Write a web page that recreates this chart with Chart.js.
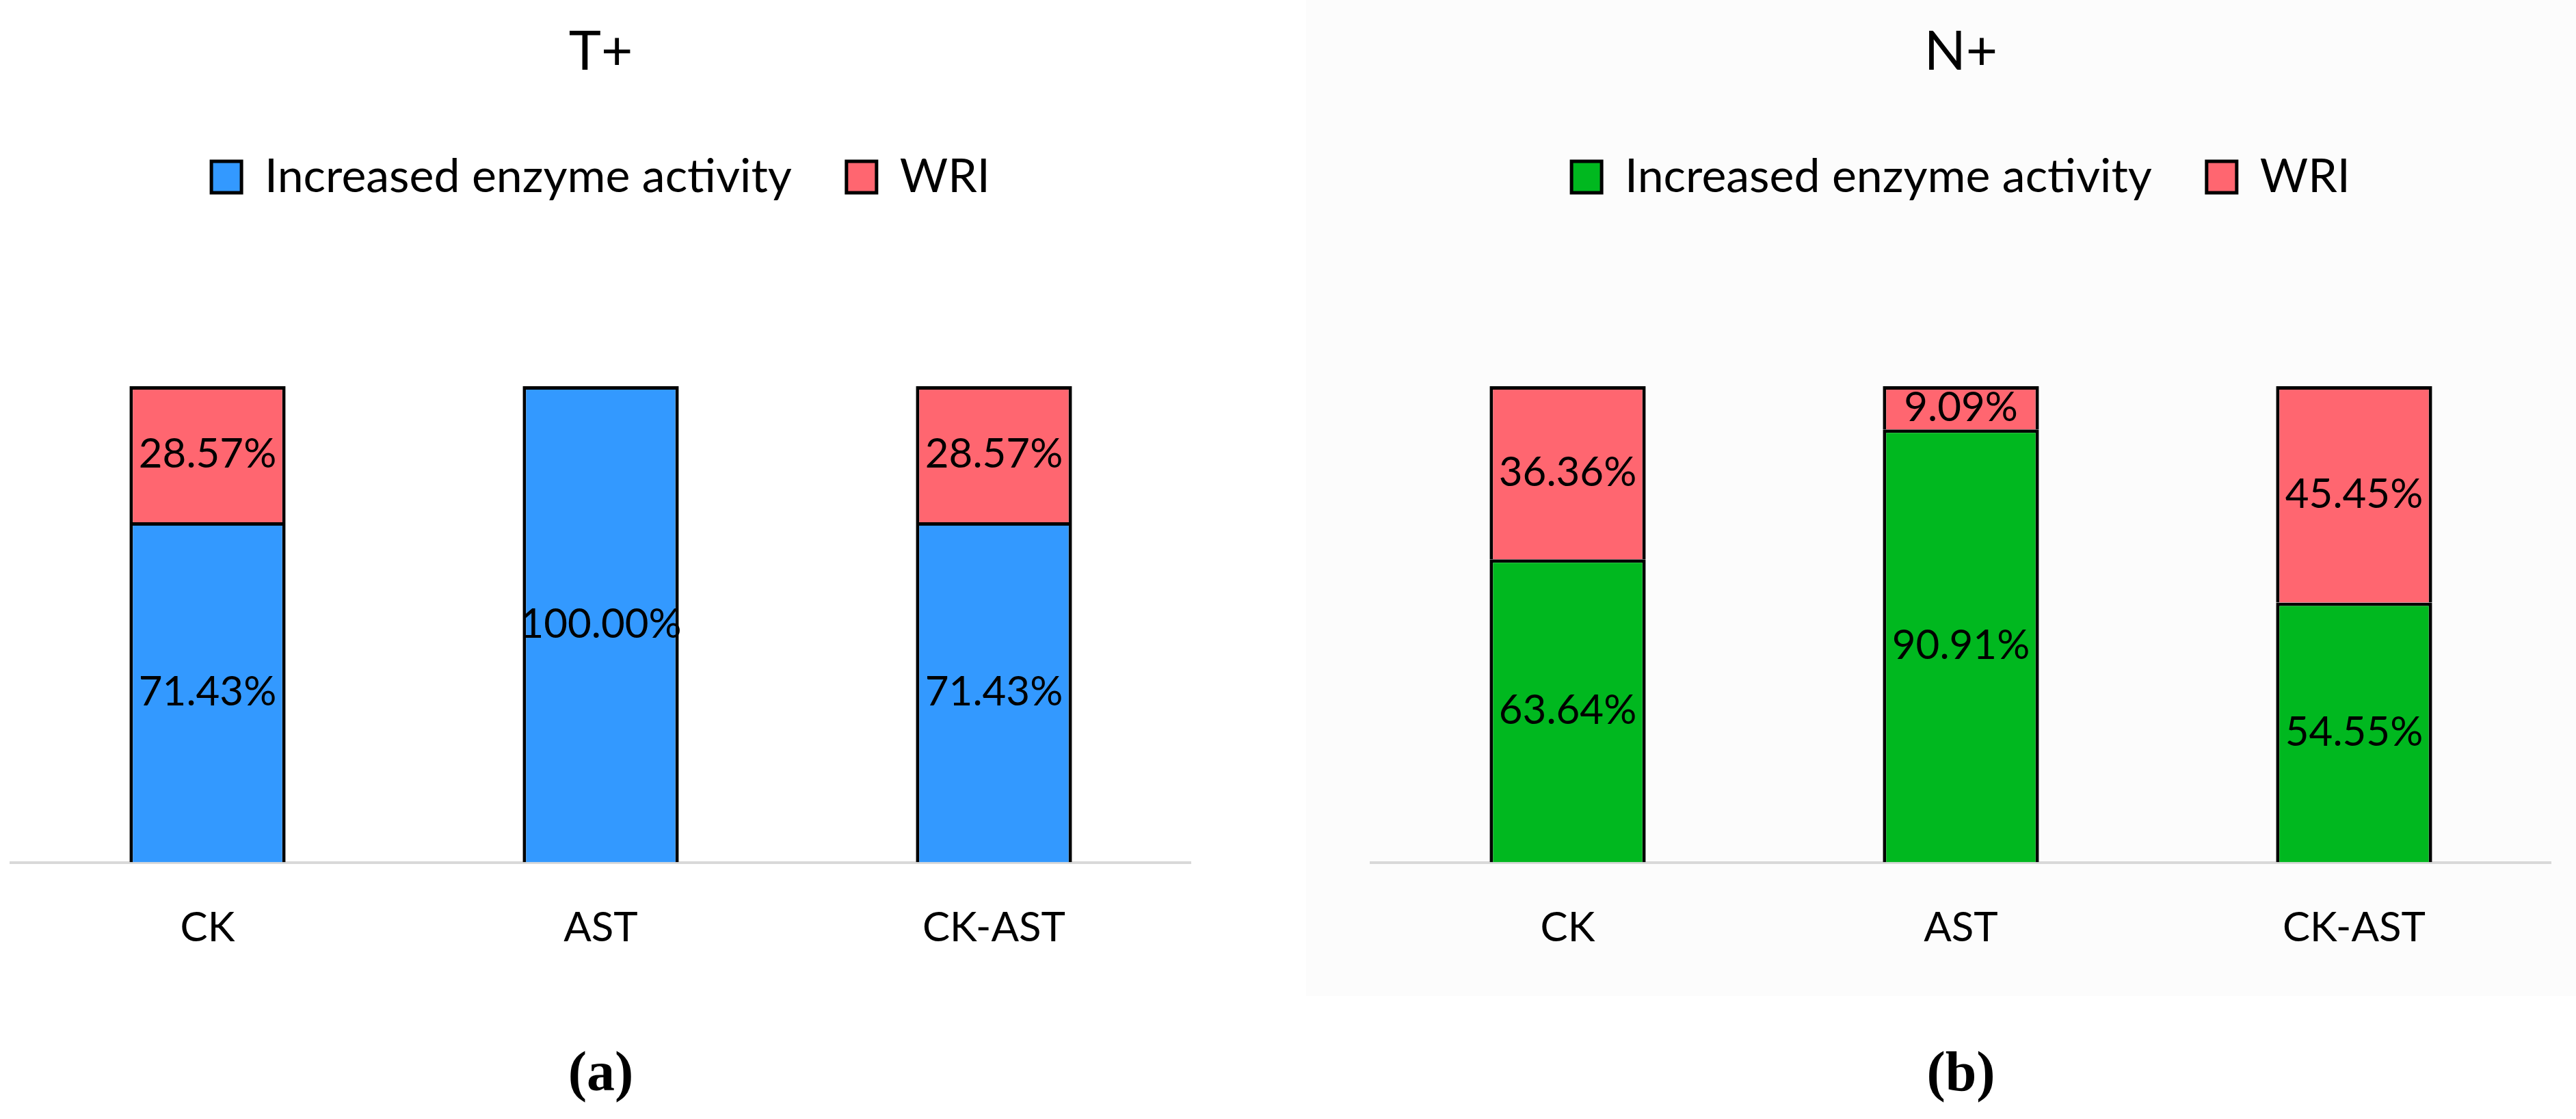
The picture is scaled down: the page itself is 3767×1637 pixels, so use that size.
<!DOCTYPE html>
<html>
<head>
<meta charset="utf-8">
<title>T+ / N+ enzyme activity</title>
<script src="https://cdn.jsdelivr.net/npm/chart.js@4.4.1/dist/chart.umd.min.js"></script>
<style>
  html, body { margin: 0; padding: 0; background: #fff; }
  body { width: 3767px; height: 1637px; position: relative; overflow: hidden; }
  .panel { position: absolute; top: 0; height: 1637px; }
  #panelA { left: 0; width: 1883px; }
  #panelB { left: 1883px; width: 1884px; }
  #shadeB { position: absolute; left: 1910px; top: 0; width: 1857px; height: 1457px; background: #fcfcfc; }
</style>
</head>
<body>
<div id="shadeB"></div>
<div class="panel" id="panelA"><canvas id="chartA"></canvas></div>
<div class="panel" id="panelB"><canvas id="chartB"></canvas></div>
<script>
// data (percent)
var categories = ['CK', 'AST', 'CK-AST'];
var seriesNames = ['Increased enzyme activity', 'WRI'];
var tEnzyme = [71.43, 100.00, 71.43];
var tWri = [28.57, 0, 28.57];
var nEnzyme = [63.64, 90.91, 54.55];
var nWri = [36.36, 9.09, 45.45];

var blue = '#3399FF';
var green = '#00B81F';
var red = '#FF6670';
var sans = 'Lato, "Noto Sans", sans-serif';

// percentage written in the middle of each stacked piece
var segmentLabels = {
    id: 'segmentLabels',
    afterDatasetsDraw: function(chart) {
        var ctx = chart.ctx;
        ctx.save();
        ctx.font = '60px ' + sans;
        ctx.fillStyle = '#000';
        ctx.textAlign = 'center';
        ctx.textBaseline = 'middle';
        chart.data.datasets.forEach(function(ds, i) {
            chart.getDatasetMeta(i).data.forEach(function(bar, j) {
                var v = ds.data[j];
                if (!v) return;
                ctx.fillText(v.toFixed(2) + '%', bar.x, (bar.y + bar.base) / 2);
            });
        });
        ctx.restore();
    }
};

function makeChart(id, title, caption, enzyme, wri, lowColor, padLeft, padRight) {
    var ctx = document.getElementById(id).getContext('2d');
    return new Chart(ctx, {
        type: 'bar',
        data: {
            labels: categories,
            datasets: [
                {
                    label: seriesNames[0],
                    data: enzyme,
                    backgroundColor: lowColor,
                    borderColor: '#000',
                    borderWidth: 5
                },
                {
                    label: seriesNames[1],
                    data: wri,
                    backgroundColor: red,
                    borderColor: '#000',
                    borderWidth: 5
                }
            ]
        },
        options: {
            responsive: true,
            maintainAspectRatio: false,
            animation: false,
            layout: { padding: { left: padLeft, right: padRight, top: 0, bottom: 14 } },
            datasets: { bar: { categoryPercentage: 1, barPercentage: 0.397 } },
            plugins: {
                title: {
                    display: true,
                    text: title,
                    color: '#000',
                    font: { family: sans, size: 80, weight: 'normal', lineHeight: 1 },
                    padding: { top: 36, bottom: 29 }
                },
                legend: {
                    position: 'top',
                    labels: {
                        color: '#000',
                        font: { family: sans, size: 68 },
                        boxWidth: 44,
                        boxHeight: 46,
                        padding: 80
                    }
                },
                // empty spacer between legend and plot
                subtitle: {
                    display: true,
                    text: '',
                    weight: 500,
                    font: { size: 1, lineHeight: 1 },
                    padding: { top: 0, bottom: 261 }
                },
                tooltip: { enabled: false }
            },
            scales: {
                x: {
                    stacked: true,
                    grid: { display: false, drawTicks: false },
                    border: { display: true, color: '#d9d9d9', width: 4 },
                    ticks: { color: '#000', font: { family: sans, size: 60 }, padding: 60 },
                    title: {
                        display: true,
                        text: caption,
                        color: '#000',
                        font: { family: '"Liberation Serif", "DejaVu Serif", serif', size: 82, weight: 'bold' },
                        padding: { top: 71, bottom: 0 }
                    }
                },
                y: {
                    stacked: true,
                    display: false,
                    min: 0,
                    max: 100
                }
            }
        },
        plugins: [segmentLabels]
    });
}

makeChart('chartA', 'T+', '(a)', tEnzyme, tWri, blue, 16, 142);
makeChart('chartB', 'N+', '(b)', nEnzyme, nWri, green, 122, 37);
</script>
</body>
</html>
